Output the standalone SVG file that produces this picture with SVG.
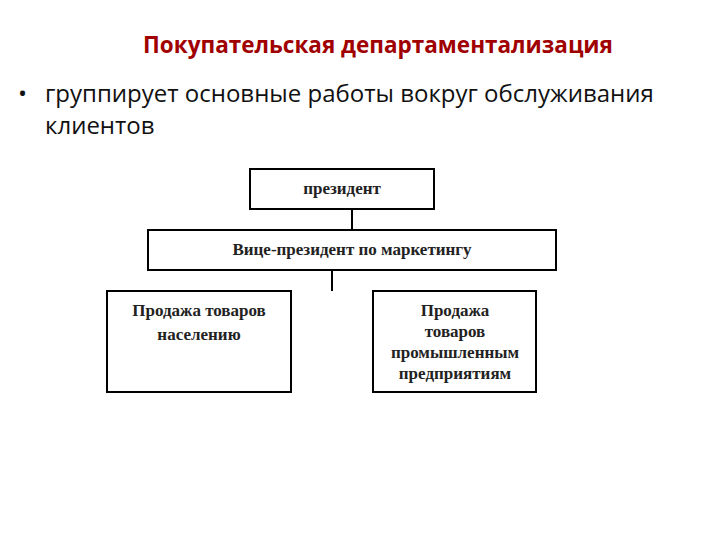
<svg xmlns="http://www.w3.org/2000/svg" width="720" height="540" viewBox="0 0 720 540">
<style>
.box{fill:#fff;stroke:#000;stroke-width:2}
.bt{font-family:"Liberation Serif",serif;font-size:17px;font-weight:bold;fill:#222;text-anchor:middle}
.body{font-family:"Open Sans","Liberation Sans",sans-serif;font-size:24px;fill:#111}
line{stroke:#000;stroke-width:2}
</style>
<rect width="720" height="540" fill="#fff"/>
<text x="378" y="53" text-anchor="middle" font-family="'Open Sans','Liberation Sans',sans-serif" font-size="22.5" font-weight="bold" fill="#a00000">Покупательская департаментализация</text>
<text class="body" x="18" y="102">•</text>
<text class="body" x="45" y="102">группирует основные работы вокруг обслуживания</text>
<text class="body" x="45" y="134">клиентов</text>
<g id="connectors">
<line x1="352" y1="209" x2="352" y2="230"/>
<line x1="332" y1="270" x2="332" y2="291"/>
</g>
<g id="president"><rect class="box" x="250" y="169" width="184" height="40"/><text class="bt" x="342" y="194">президент</text></g>
<g id="vp"><rect class="box" x="148" y="230" width="408" height="40"/><text class="bt" x="352" y="255">Вице-президент по маркетингу</text></g>
<g id="retail"><rect class="box" x="107" y="291" width="184" height="101"/><text class="bt" x="199" y="316">Продажа товаров</text><text class="bt" x="199" y="340">населению</text></g>
<g id="industry"><rect class="box" x="373" y="291" width="163" height="101"/><text class="bt" x="455" y="316">Продажа</text><text class="bt" x="455" y="337">товаров</text><text class="bt" x="455" y="358">промышленным</text><text class="bt" x="455" y="379">предприятиям</text></g>
</svg>
